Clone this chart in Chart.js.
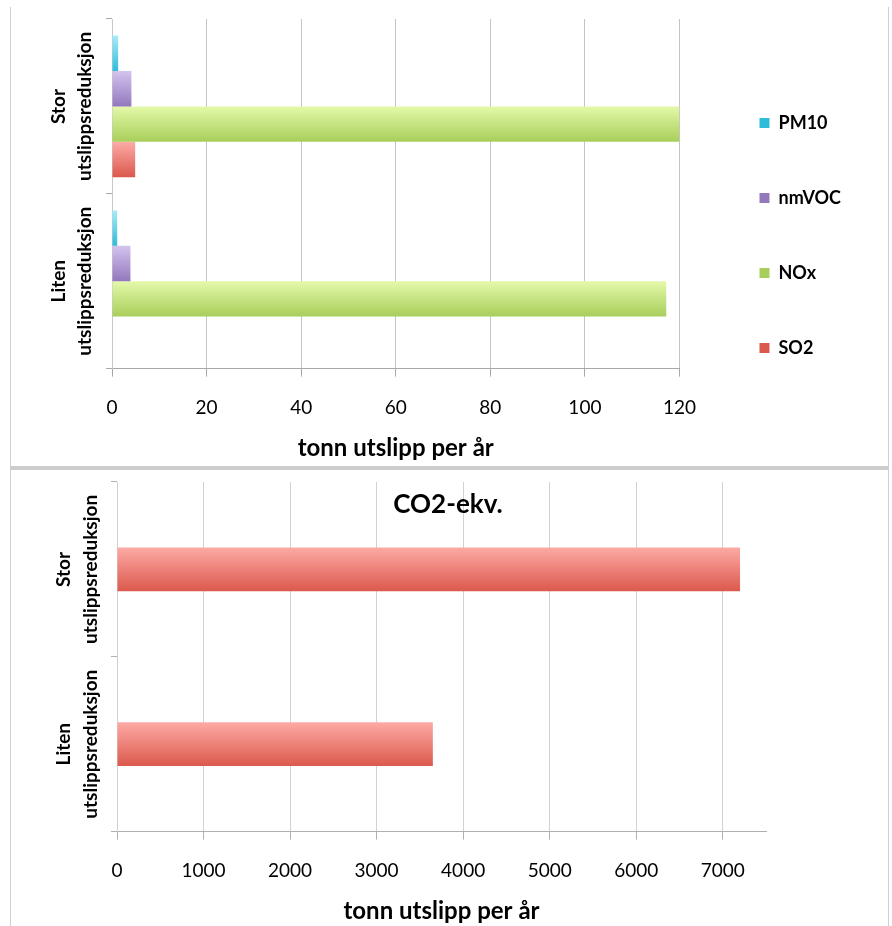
<!DOCTYPE html>
<html>
<head>
<meta charset="utf-8">
<script src="https://cdn.jsdelivr.net/npm/chart.js@4/dist/chart.umd.min.js"></script>
<style>
  html, body { margin: 0; padding: 0; background: #fff; }
  #page { position: relative; width: 892px; height: 926px; overflow: hidden; }
  .frame { position: absolute; box-sizing: border-box; border-left: 1px solid #cfcfcf; border-right: 1px solid #cfcfcf; }
  #frameTop { left: 10px; top: 7px; width: 879px; height: 459px; }
  #frameBottom { left: 10px; top: 470px; width: 879px; height: 456px; }
  #divider { position: absolute; left: 10px; top: 466px; width: 879px; height: 4px; background: #cdcdcd; }
  canvas { position: absolute; left: 0; }
  #topChart { top: 0; }
  #bottomChart { top: 470px; }
</style>
</head>
<body>
<div id="page">
  <div class="frame" id="frameTop"></div>
  <div id="divider"></div>
  <div class="frame" id="frameBottom"></div>
  <canvas id="topChart" width="892" height="466"></canvas>
  <canvas id="bottomChart" width="892" height="456"></canvas>
</div>
<script>
// Scenarios (top to bottom), each label split over two lines
const scenarios = [['Stor', 'utslippsreduksjon'], ['Liten', 'utslippsreduksjon']];

// Local emissions, tonnes per year
const pm10Values  = [1.3, 1.1];
const nmvocValues = [4.1, 3.9];
const noxValues   = [120, 117.2];
const so2Values   = [4.9, 0];

// Greenhouse gas emissions, tonnes CO2-equivalents per year
const co2Values = [7200, 3650];

// Value axis ticks
const emissionTicks = [0, 20, 40, 60, 80, 100, 120];
const co2Ticks = [0, 1000, 2000, 3000, 4000, 5000, 6000, 7000];

const axisTitle = 'tonn utslipp per år';
const co2Title = 'CO2-ekv.';

Chart.defaults.font.family = 'Lato, "Open Sans", sans-serif';
Chart.defaults.color = '#000';

// Vertical light-to-dark fill across each bar's thickness
function barFill(light, dark, solid) {
  return (c) => {
    if (c.type !== 'data') return solid;
    const chart = c.chart;
    const y = chart.scales.y;
    if (!y || y.top === undefined) return solid;
    const ds = chart.data.datasets[c.datasetIndex];
    const catPct = ds.categoryPercentage;
    const n = chart.data.labels.length;
    const slot = n > 1 ? Math.abs(y.getPixelForValue(1) - y.getPixelForValue(0)) : (y.bottom - y.top);
    const group = slot * catPct;
    const chunk = group / chart.data.datasets.length;
    const top = y.getPixelForValue(c.dataIndex) - group / 2 + chunk * c.datasetIndex;
    const g = chart.ctx.createLinearGradient(0, top, 0, top + chunk);
    g.addColorStop(0, light);
    g.addColorStop(1, dark);
    return g;
  };
}

// Fixed tick positions taken from a list
function ticksFrom(values) {
  return (scale) => { scale.ticks = values.map(v => ({ value: v })); };
}

// Rotated two-line category labels left of the value axis
const categoryLabels = {
  id: 'categoryLabels',
  afterDraw(chart, args, opts) {
    const { ctx, chartArea, scales: { y } } = chart;
    ctx.save();
    ctx.font = 'bold ' + opts.size + 'px Lato';
    ctx.fillStyle = '#000';
    ctx.textAlign = 'center';
    ctx.textBaseline = 'middle';
    chart.data.labels.forEach((lines, i) => {
      const cy = y.getPixelForValue(i);
      lines.forEach((line, j) => {
        ctx.save();
        ctx.translate(chartArea.left - opts.offsets[j], cy);
        ctx.rotate(-Math.PI / 2);
        ctx.fillText(line, 0, 0);
        ctx.restore();
      });
    });
    ctx.restore();
  }
};

// Chart heading drawn over the top of the plot
const overlayTitle = {
  id: 'overlayTitle',
  afterDraw(chart, args, opts) {
    if (!opts.text) return;
    const { ctx, chartArea } = chart;
    ctx.save();
    ctx.font = 'bold ' + opts.size + 'px Lato';
    ctx.fillStyle = '#000';
    ctx.textAlign = 'center';
    ctx.textBaseline = 'middle';
    ctx.fillText(opts.text, chart.width / 2 + 2, chartArea.top + opts.dy);
    ctx.restore();
  }
};

const catPctTop = 0.81;
const tickFont = { size: 19, lineHeight: 1.4 };
const titleFont = { size: 24, weight: 'bold' };

new Chart(document.getElementById('topChart'), {
  type: 'bar',
  data: {
    labels: scenarios,
    datasets: [
      { label: 'PM10',  data: pm10Values,  backgroundColor: barFill('#a8ecfa', '#2fbcda', '#4cc8e2'), categoryPercentage: catPctTop, barPercentage: 1 },
      { label: 'nmVOC', data: nmvocValues, backgroundColor: barFill('#d3c4ee', '#9378bd', '#a48ccb'), categoryPercentage: catPctTop, barPercentage: 1 },
      { label: 'NOx',   data: noxValues,   backgroundColor: barFill('#e4f9aa', '#a8ce5a', '#c2e37e'), categoryPercentage: catPctTop, barPercentage: 1 },
      { label: 'SO2',   data: so2Values,   backgroundColor: barFill('#fcaca7', '#db584c', '#e9736a'), categoryPercentage: catPctTop, barPercentage: 1 }
    ]
  },
  options: {
    indexAxis: 'y',
    responsive: false,
    animation: false,
    layout: { padding: { left: 106, top: 19, right: 41, bottom: 14 } },
    scales: {
      x: {
        min: 0, max: 120,
        afterBuildTicks: ticksFrom(emissionTicks),
        ticks: { color: '#000', font: tickFont, padding: 18, callback: v => String(v) },
        grid: { color: '#c4c4c4', tickColor: '#a8a8a8', tickLength: 8 },
        border: { color: '#a8a8a8' },
        title: { display: true, text: axisTitle, color: '#000', font: titleFont, padding: { top: -5, bottom: -11 } }
      },
      y: {
        grid: { offset: true, drawOnChartArea: false, tickLength: 6, tickColor: '#a8a8a8' },
        border: { color: '#c8c8c8' },
        ticks: { display: false }
      },
      gap: {
        type: 'category', position: 'right', display: true,
        grid: { drawOnChartArea: false, tickLength: 23, color: 'rgba(0,0,0,0)', tickColor: 'rgba(0,0,0,0)' },
        border: { display: false },
        ticks: { display: false }
      }
    },
    plugins: {
      legend: {
        position: 'right',
        maxWidth: 300,
        labels: { boxWidth: 10, boxHeight: 10, padding: 57, color: '#000', font: { size: 18, weight: 'bold' } }
      },
      tooltip: { enabled: false },
      categoryLabels: { size: 19, offsets: [53, 27] },
      overlayTitle: { text: '' }
    }
  },
  plugins: [categoryLabels, overlayTitle]
});

new Chart(document.getElementById('bottomChart'), {
  type: 'bar',
  data: {
    labels: scenarios,
    datasets: [
      { label: co2Title, data: co2Values, backgroundColor: barFill('#fdaaa5', '#dc594d', '#ea766d'), categoryPercentage: 0.25, barPercentage: 1 }
    ]
  },
  options: {
    indexAxis: 'y',
    responsive: false,
    animation: false,
    layout: { padding: { left: 111, top: 12, right: 126, bottom: 0 } },
    scales: {
      x: {
        min: 0, max: 7500,
        afterBuildTicks: ticksFrom(co2Ticks),
        ticks: { color: '#000', font: tickFont, padding: 18, callback: v => String(v) },
        grid: { color: '#d2d2d2', tickColor: '#b0b0b0', tickLength: 8 },
        border: { color: '#b0b0b0' },
        title: { display: true, text: axisTitle, color: '#000', font: titleFont, padding: { top: -5, bottom: 0 } }
      },
      y: {
        grid: { offset: true, drawOnChartArea: false, tickLength: 6, tickColor: '#b0b0b0' },
        border: { color: '#d0d0d0' },
        ticks: { display: false }
      }
    },
    plugins: {
      legend: { display: false },
      tooltip: { enabled: false },
      categoryLabels: { size: 19, offsets: [53, 26] },
      overlayTitle: { text: co2Title, size: 26, dy: 23 }
    }
  },
  plugins: [categoryLabels, overlayTitle]
});
</script>
</body>
</html>
